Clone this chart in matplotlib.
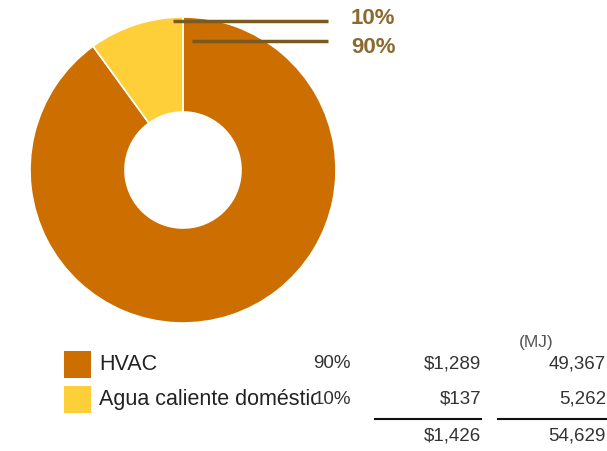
import matplotlib
matplotlib.use("Agg")
import matplotlib.pyplot as plt
from matplotlib.patches import Rectangle
from matplotlib.transforms import Bbox, TransformedBbox

categories = ["HVAC", "Agua caliente doméstica"]
shares = [90, 10]
costs = ["$1,289", "$137"]
energy = ["49,367", "5,262"]
total_cost = "$1,426"
total_energy = "54,629"
colors = ["#CC6E00", "#FFCF3A"]

W, H = 607, 451
fig = plt.figure(figsize=(W / 100, H / 100), dpi=100)
ax = fig.add_axes([0, 0, 1, 1])

def Y(y):
    return H - y

cx, cy, R = 183, 170, 153
ax.pie(shares, colors=colors, startangle=90, counterclock=False,
       center=(cx, Y(cy)), radius=R,
       wedgeprops=dict(width=R - 58, edgecolor="white", linewidth=1.2))
ax.set_xlim(0, W)
ax.set_ylim(0, H)
ax.set_aspect("equal")
ax.axis("off")

font = "Liberation Sans"
lab_col = "#8A6A2E"
line_col = "#7A5A1E"
# callout lines + labels (small slice first)
callouts = [(173, 21, 19, "10%"), (192, 40.5, 47.5, "90%")]
for x0, y0, ty, txt in callouts:
    ax.plot([x0, 328], [Y(y0), Y(y0)], color=line_col, lw=2.5, solid_capstyle="butt")
    ax.text(351, Y(ty), txt, fontsize=16, fontweight="bold", color=lab_col,
            family=font, ha="left", va="center")

# legend table
txt_col = "#222222"
num_col = "#333333"
rows_y = [364, 399]
clip_box = TransformedBbox(Bbox([[95, 0], [316, H]]), ax.transData)
for i, (cat, sh, c, e) in enumerate(zip(categories, shares, costs, energy)):
    yc = rows_y[i]
    ax.add_patch(Rectangle((64, Y(yc + 13.5)), 27, 27, facecolor=colors[i], edgecolor="none"))
    t = ax.text(99, Y(yc), cat, fontsize=15.5, color=txt_col, family=font,
                ha="left", va="center")
    t.set_clip_path(None)
    t.set_clip_box(clip_box)
    t.set_clip_on(True)
    ax.text(351, Y(yc), f"{sh}%", fontsize=13.5, color=num_col, family=font,
            ha="right", va="center")
    ax.text(481, Y(yc), c, fontsize=13.5, color=num_col, family=font,
            ha="right", va="center")
    ax.text(606, Y(yc), e, fontsize=13.5, color=num_col, family=font,
            ha="right", va="center")

ax.text(536, Y(342), "(MJ)", fontsize=12.5, color="#555555", family=font,
        ha="center", va="center")
ax.plot([375, 481], [Y(419), Y(419)], color="#111111", lw=1.5)
ax.plot([498, 607], [Y(419), Y(419)], color="#111111", lw=1.5)
ax.text(481, Y(436), total_cost, fontsize=13.5, color=num_col, family=font,
        ha="right", va="center")
ax.text(606, Y(436), total_energy, fontsize=13.5, color=num_col, family=font,
        ha="right", va="center")

fig.savefig("out.png", dpi=100)
